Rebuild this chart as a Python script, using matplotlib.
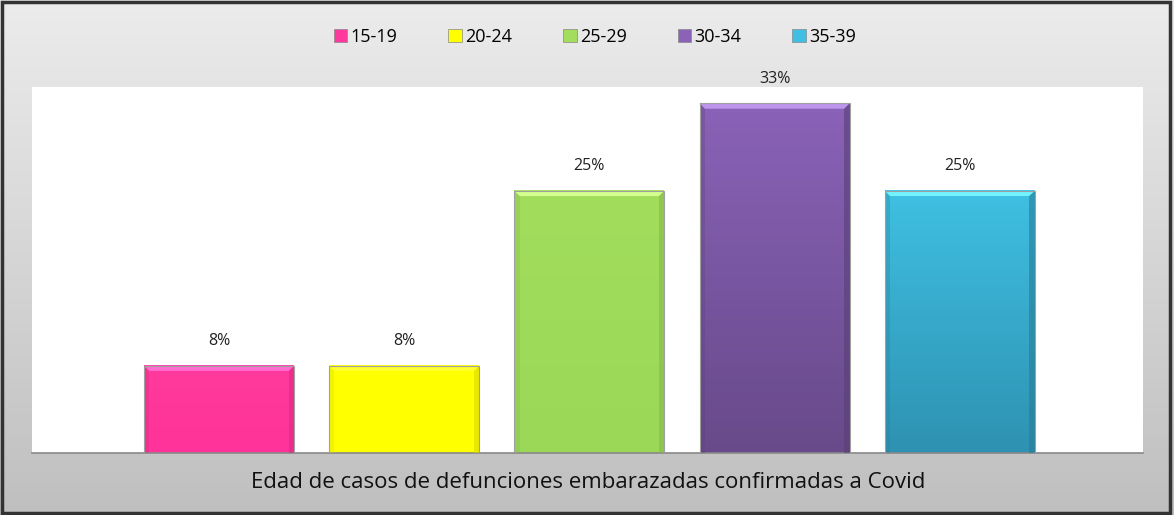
import numpy as np
import matplotlib.pyplot as plt
from matplotlib.patches import Polygon, Rectangle
from matplotlib.colors import to_rgb

series = ['15-19', '20-24', '25-29', '30-34', '35-39']
values = [8.33, 8.33, 25.0, 33.33, 25.0]
labels = ['8%', '8%', '25%', '33%', '25%']
top_colors = ['#ff3a9c', '#ffff00', '#a2de5c', '#8a62b8', '#3fc0e2']
bottom_colors = ['#ff3399', '#ffff00', '#9cd858', '#684a8a', '#2e92b2']
xlabel = 'Edad de casos de defunciones embarazadas confirmadas a Covid'

W, H = 1174, 515
fig = plt.figure(figsize=(W / 100, H / 100), dpi=100)

# gray gradient background
bg = fig.add_axes([0, 0, 1, 1], zorder=-10)
grad = np.linspace(0.925, 0.75, 256).reshape(-1, 1)
bg.imshow(np.dstack([grad, grad, grad]), aspect='auto', extent=(0, 1, 0, 1))
bg.set_xlim(0, 1); bg.set_ylim(0, 1)
bg.axis('off')
bg.add_patch(Rectangle((0.002, 0.004), 0.995, 0.992, fill=False,
                       edgecolor='#333333', lw=2.5, transform=bg.transAxes))

# plot area in pixels: x 32..1143, y 87..453
ax = fig.add_axes([32 / W, 1 - 453 / H, (1143 - 32) / W, (453 - 87) / H])
ax.set_facecolor('white')
width = 0.81
x = np.arange(len(values))
ax.set_xlim(-1.01, 4.99)
ax.set_ylim(0, 34.9)

for i, v in enumerate(values):
    c_top = np.array(to_rgb(top_colors[i]))
    c_bot = np.array(to_rgb(bottom_colors[i]))
    t = np.linspace(0, 1, 100).reshape(-1, 1, 1)
    img = c_top * (1 - t) + c_bot * t
    x0, x1 = x[i] - width / 2, x[i] + width / 2
    ax.imshow(img, aspect='auto', extent=(x0, x1, 0, v), zorder=2)
    # bevel: lighter top, darker sides
    bx = 0.028
    by = 0.5
    light = np.minimum(c_top + 0.2, 1)
    dark = c_bot * 0.85
    ax.add_patch(Polygon([(x0, v), (x1, v), (x1 - bx, v - by), (x0 + bx, v - by)],
                         closed=True, facecolor=light, edgecolor='none', zorder=3))
    ax.add_patch(Polygon([(x1, v), (x1, 0), (x1 - bx, 0), (x1 - bx, v - by)],
                         closed=True, facecolor=dark, edgecolor='none', alpha=0.6, zorder=3))
    ax.add_patch(Polygon([(x0, v), (x0, 0), (x0 + bx, 0), (x0 + bx, v - by)],
                         closed=True, facecolor=dark, edgecolor='none', alpha=0.3, zorder=3))
    ax.add_patch(Rectangle((x0, 0), width, v, fill=False, edgecolor='#a0a0a0',
                           lw=0.8, zorder=4))
    ax.annotate(labels[i], (x[i], v), xytext=(0, 12), textcoords='offset points',
                ha='center', va='bottom', fontsize=11.5, family='Open Sans',
                color='#222222', annotation_clip=False)

ax.set_xticks([]); ax.set_yticks([])
for s in ['top', 'left', 'right']:
    ax.spines[s].set_visible(False)
ax.spines['bottom'].set_color('#888888')
ax.spines['bottom'].set_linewidth(1.2)

fig.text(588 / W, 1 - 483 / H, xlabel, ha='center', va='center',
         fontsize=16, family='Open Sans', color='#111111')

handles = [Rectangle((0, 0), 1, 1, facecolor=c, edgecolor='#888888', lw=0.5)
           for c in top_colors]
fig.legend(handles, series, loc='center', bbox_to_anchor=(595 / W, 1 - 37 / H),
           ncol=5, frameon=False, handlelength=0.75, handleheight=0.75,
           handletextpad=0.2, columnspacing=2.8,
           prop={'family': 'Open Sans', 'size': 13})

fig.savefig('out.png', dpi=100)
